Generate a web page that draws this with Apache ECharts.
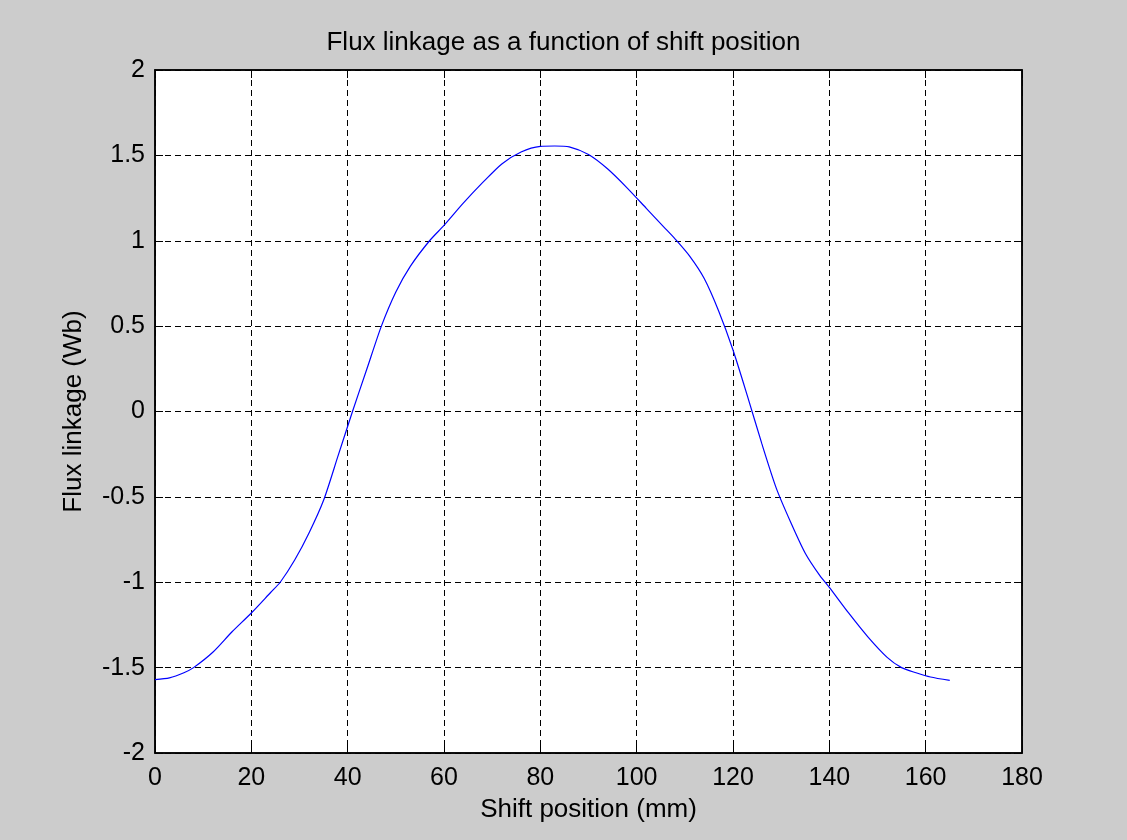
<!DOCTYPE html>
<html><head><meta charset="utf-8">
<script src="https://cdn.jsdelivr.net/npm/echarts@6/dist/echarts.min.js"></script>
<style>html,body{margin:0;padding:0;background:#cccccc;}#c{width:1127px;height:840px;}</style>
</head><body><div id="c"></div>
<script>
const titleText = "Flux linkage as a function of shift position";
const xName = "Shift position (mm)";
const yName = "Flux linkage (Wb)";
const shiftMM = [0,3,6,8,12,16,20,24,26,29,32,35,38,41,44,47,50,53,57,60,64,68,72,76,80,83,86,90,94,98,102,106,108,111,114,117,120,123,126,129,132,135,138,140,144,148,152,155,158,161,165];
const flux = [-1.57,-1.56,-1.53,-1.50,-1.41,-1.29,-1.18,-1.06,-1.00,-0.87,-0.71,-0.52,-0.26,0.00,0.25,0.50,0.70,0.85,1.00,1.09,1.22,1.34,1.45,1.52,1.553,1.555,1.55,1.505,1.42,1.31,1.19,1.07,1.01,0.91,0.78,0.59,0.36,0.09,-0.19,-0.45,-0.65,-0.83,-0.96,-1.03,-1.18,-1.32,-1.44,-1.50,-1.53,-1.555,-1.575];
const points = shiftMM.map((x,i)=>[x,flux[i]]);
const font = "Liberation Sans, Arial, sans-serif";
const chart = echarts.init(document.getElementById('c'));
const gridDash = {show:true, lineStyle:{color:'#000', type:[6,4], width:1}};
const axLine = {show:true, onZero:false, lineStyle:{color:'#000', width:1.5}};
const tick = {show:true, inside:true, length:8, lineStyle:{color:'#000'}};
chart.setOption({
  backgroundColor:'#cccccc',
  animation:false,
  title:{text:titleText, left:'center', top:25, textStyle:{fontFamily:font, fontSize:26, fontWeight:'normal', color:'#000'}},
  grid:{left:155, right:105, top:70, bottom:87, show:true, backgroundColor:'#fff', borderColor:'#000', borderWidth:1.5},
  xAxis:[{type:'value', min:0, max:180, interval:20, position:'bottom',
    name:xName, nameLocation:'middle', nameGap:44, nameTextStyle:{fontFamily:font, fontSize:26, color:'#000'},
    axisLine:axLine, axisTick:tick,
    axisLabel:{fontFamily:font, fontSize:25, color:'#000', margin:13}, splitLine:gridDash},
    {type:'value', min:0, max:180, interval:20, position:'top',
    axisLine:axLine, axisTick:tick, axisLabel:{show:false}, splitLine:{show:false}}],
  yAxis:[{type:'value', min:-2, max:2, interval:0.5, position:'left',
    name:yName, nameLocation:'middle', nameGap:68, nameTextStyle:{fontFamily:font, fontSize:26, color:'#000'},
    axisLine:axLine, axisTick:tick,
    axisLabel:{fontFamily:font, fontSize:25, color:'#000', margin:10}, splitLine:gridDash},
    {type:'value', min:-2, max:2, interval:0.5, position:'right',
    axisLine:axLine, axisTick:tick, axisLabel:{show:false}, splitLine:{show:false}}],
  series:[{type:'line', data:points, xAxisIndex:0, yAxisIndex:0, smooth:0.25, showSymbol:false, lineStyle:{color:'#0000ff', width:1.2}}]
});
</script></body></html>
